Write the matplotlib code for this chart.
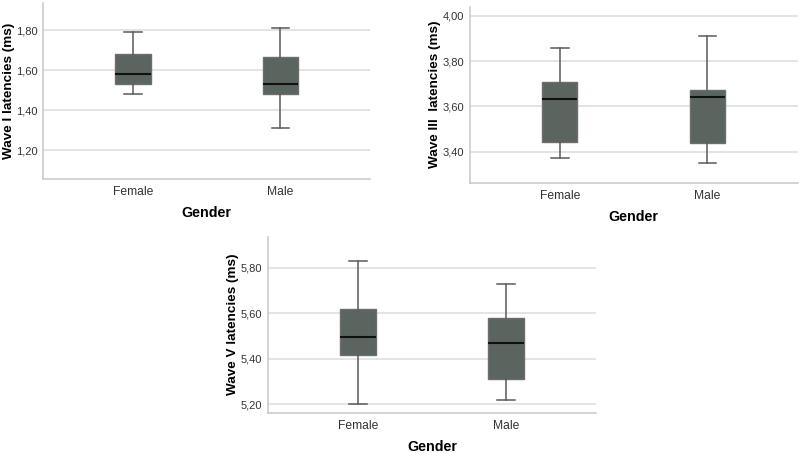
import matplotlib.pyplot as plt
from matplotlib.ticker import FuncFormatter

# box statistics (whisker low, Q1, median, Q3, whisker high)
genders = ['Female', 'Male']

wave1_low = [1.48, 1.31]
wave1_q1 = [1.53, 1.48]
wave1_med = [1.58, 1.53]
wave1_q3 = [1.683, 1.667]
wave1_high = [1.79, 1.81]

wave3_low = [3.37, 3.35]
wave3_q1 = [3.444, 3.44]
wave3_med = [3.631, 3.641]
wave3_q3 = [3.706, 3.671]
wave3_high = [3.86, 3.91]

wave5_low = [5.20, 5.22]
wave5_q1 = [5.416, 5.31]
wave5_med = [5.496, 5.469]
wave5_q3 = [5.62, 5.58]
wave5_high = [5.83, 5.73]

ticks1 = [1.20, 1.40, 1.60, 1.80]
ticks3 = [3.40, 3.60, 3.80, 4.00]
ticks5 = [5.20, 5.40, 5.60, 5.80]

BOX = '#5b6560'
GRID = '#dcdcdc'
SPINE = '#c8c8c8'

plt.rcParams['font.family'] = ['Liberation Sans', 'DejaVu Sans']
NARROW = ['Liberation Sans Narrow', 'Liberation Sans', 'DejaVu Sans']

fig = plt.figure(figsize=(8, 4.53), dpi=100)


def draw(rect, low, q1, med, q3, high, ticks, ylim, ylabel):
    ax = fig.add_axes(rect)
    stats = []
    for i, g in enumerate(genders):
        stats.append({'label': g, 'whislo': low[i], 'q1': q1[i], 'med': med[i],
                      'q3': q3[i], 'whishi': high[i], 'fliers': []})
    ax.bxp(stats, positions=[0, 1], widths=0.24, patch_artist=True, showfliers=False,
           boxprops=dict(facecolor=BOX, edgecolor='#6e6e6e', linewidth=1),
           medianprops=dict(color='#111111', linewidth=1.5),
           whiskerprops=dict(color='#5a5a5a', linewidth=1.1),
           capprops=dict(color='#5a5a5a', linewidth=1.1),
           capwidths=0.12, zorder=3)
    ax.set_xlim(-0.61, 1.61)
    ax.set_ylim(*ylim)
    ax.set_yticks(ticks)
    ax.yaxis.set_major_formatter(FuncFormatter(lambda v, p: f'{v:.2f}'.replace('.', ',')))
    ax.grid(axis='y', color=GRID, linewidth=1.1, zorder=0)
    ax.set_axisbelow(True)
    for s in ['top', 'right']:
        ax.spines[s].set_visible(False)
    for s in ['left', 'bottom']:
        ax.spines[s].set_color(SPINE)
        ax.spines[s].set_linewidth(1.1)
    ax.tick_params(length=0, colors='#333333')
    ax.tick_params(axis='y', labelsize=8, pad=4)
    ax.tick_params(axis='x', labelsize=8.7, pad=5)
    for t in ax.get_yticklabels():
        t.set_family(NARROW)
    ax.set_xlabel('Gender', fontsize=10.3, fontweight='bold', labelpad=6)
    ax.set_ylabel(ylabel, fontsize=9.7, fontweight='bold', va='center')
    ax.yaxis.set_label_coords(-0.106, 0.5)
    return ax


draw([0.054, 0.605, 0.409, 0.388], wave1_low, wave1_q1, wave1_med, wave1_q3, wave1_high,
     ticks1, (1.057, 1.935), 'Wave I latencies (ms)')
draw([0.587, 0.597, 0.41, 0.388], wave3_low, wave3_q1, wave3_med, wave3_q3, wave3_high,
     ticks3, (3.263, 4.04), 'Wave III  latencies (ms)')
draw([0.335, 0.089, 0.41, 0.3885], wave5_low, wave5_q1, wave5_med, wave5_q3, wave5_high,
     ticks5, (5.162, 5.937), 'Wave V latencies (ms)')

fig.savefig('out.png', dpi=100, facecolor='white')
